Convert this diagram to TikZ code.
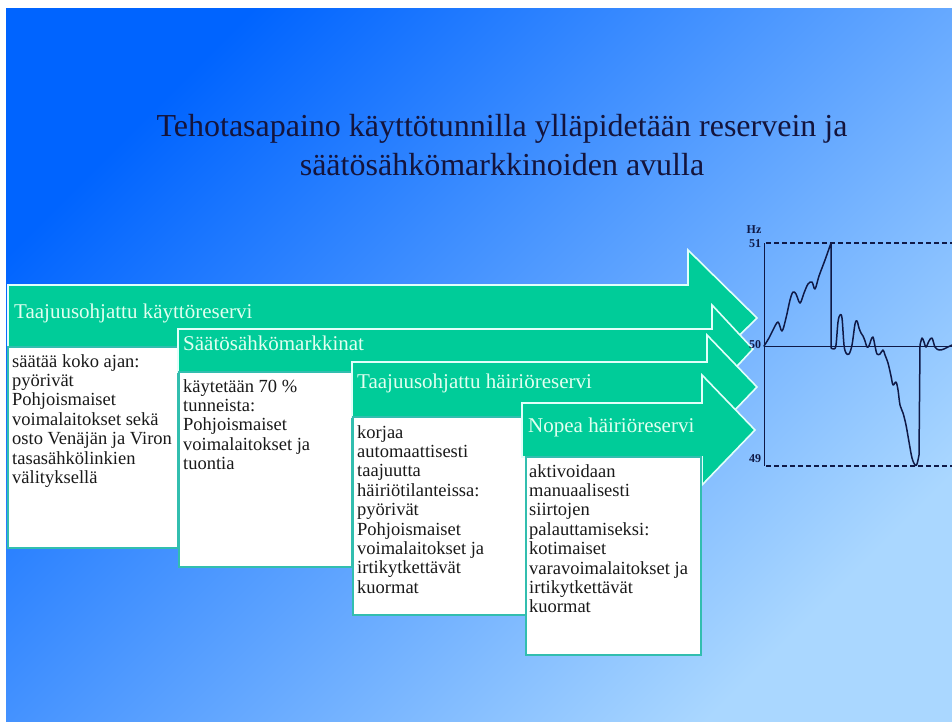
\documentclass[tikz,border=0pt]{standalone}
\usepackage{fontspec}
\setmainfont{Liberation Serif}
\definecolor{bgdark}{RGB}{0,100,255}
\definecolor{bglight}{RGB}{170,215,255}
\definecolor{rgreen}{RGB}{0,204,153}
\definecolor{rrim}{RGB}{225,255,250}
\definecolor{rteal}{RGB}{50,190,175}
\definecolor{rhead}{RGB}{225,255,240}
\definecolor{rink}{RGB}{25,25,25}
\definecolor{rnavy}{RGB}{15,25,70}
\definecolor{rtitle}{RGB}{20,20,60}
\begin{document}
\begin{tikzpicture}[x=1pt,y=-1pt,
  arrowshape/.style={fill=rgreen, draw=rrim, line width=1.6pt, line join=miter},
  textbox/.style={fill=white, draw=rteal, line width=1.8pt},
  headtext/.style={anchor=base west, inner sep=0pt, text=rhead,
    font=\fontsize{21}{24}\selectfont},
  bodytext/.style={anchor=base west, inner sep=0pt, text=rink,
    font=\fontsize{18.5}{19.4}\selectfont},
  trace/.style={draw=rnavy, line width=1.5pt, line join=round, line cap=round},
  axisline/.style={draw=rnavy, line width=0.9pt},
  limitline/.style={draw=rnavy, line width=1.6pt, dash pattern=on 5pt off 3pt},
  ticklabel/.style={inner sep=0pt, text=rnavy, font=\fontsize{12}{12}\bfseries\selectfont}]
\useasboundingbox (0,0) rectangle (952,722);
\fill[white] (0,0) rectangle (952,722);
\shade[top color=bgdark, bottom color=bglight, shading angle=45] (6,9) rectangle (952,722);

% title
\node[anchor=base, inner sep=0pt, text=rtitle, font=\fontsize{32}{38.5}\selectfont] (title) at (502,137)
  {\parbox[t]{820pt}{\centering Tehotasapaino käyttötunnilla ylläpidetään reservein ja\\
   säätösähkömarkkinoiden avulla}};

% reserve 1
\draw[arrowshape] (8,285) -- (688,285) -- (688,250) -- (757,318) -- (688,386) -- (688,347) -- (8,347) -- cycle;
\node[headtext] (h1) at (14,318) {Taajuusohjattu käyttöreservi};
\draw[textbox] (8,347) rectangle (178,548);
\node[bodytext] (b1) at (12,367) {\parbox[t]{168pt}{\raggedright säätää koko ajan:\\ pyörivät\\
  Pohjoismaiset\\ voimalaitokset sekä\\ osto Venäjän ja Viron\\ tasasähkölinkien\\ välityksellä}};

% reserve 2
\draw[arrowshape] (178,329) -- (712,329) -- (712,305) -- (753,349) -- (712,393) -- (712,372) -- (178,372) -- cycle;
\node[headtext] (h2) at (183,350) {Säätösähkömarkkinat};
\draw[textbox] (179,372) rectangle (352,567);
\node[bodytext] (b2) at (183,392) {\parbox[t]{168pt}{\raggedright käytetään 70 \%\\ tunneista:\\
  Pohjoismaiset\\ voimalaitokset ja\\ tuontia}};

% reserve 3
\draw[arrowshape] (352,362) -- (707,362) -- (707,335) -- (757,387) -- (707,439) -- (707,417) -- (352,417) -- cycle;
\node[headtext] (h3) at (357,388) {Taajuusohjattu häiriöreservi};
\draw[textbox] (353,417) rectangle (527,615);
\node[bodytext] (b3) at (357,438) {\parbox[t]{168pt}{\raggedright korjaa\\ automaattisesti\\ taajuutta\\
  häiriötilanteissa:\\ pyörivät\\ Pohjoismaiset\\ voimalaitokset ja\\ irtikytkettävät\\ kuormat}};

% reserve 4
\draw[arrowshape] (522,403) -- (702,403) -- (702,375) -- (755,430) -- (702,485) -- (702,457) -- (522,457) -- cycle;
\node[headtext] (h4) at (528,432) {Nopea häiriöreservi};
\draw[textbox] (526,457) rectangle (701,655);
\node[bodytext] (b4) at (529,477) {\parbox[t]{170pt}{\raggedright aktivoidaan\\ manuaalisesti\\ siirtojen\\
  palauttamiseksi:\\ kotimaiset\\ varavoimalaitokset ja\\ irtikytkettävät\\ kuormat}};

% frequency chart
\draw[limitline] (766,243) -- (952,243);
\draw[limitline] (766,466) -- (952,466);
\draw[axisline] (764,243) -- (764,466);
\draw[axisline] (764,346) -- (952,346);
\node[ticklabel] (hz) at (754,230) {Hz};
\node[ticklabel] (f51) at (755,244) {51};
\node[ticklabel] (f50) at (755,345) {50};
\node[ticklabel] (f49) at (755,459) {49};

\draw[trace] plot[smooth, tension=0.55] coordinates {(764,346) (769,338) (773,330) (778,322) (782,331)
  (786,318) (790,300) (793,292) (796,294) (800,303) (804,293) (808,284) (812,282) (815,289)
  (819,276) (825,260) (831,243)}
  -- (831,348)
  plot[smooth, tension=0.55] coordinates {(831,348) (834,349) (836,345) (838,322) (840,315) (842,318)
  (844,345) (846,353) (849,354) (852,345) (855,324) (857,321) (859,328) (861,333) (863,336)
  (865,341) (867,347) (869,346) (871,340) (873,337) (875,346) (877,354) (880,354) (883,350)
  (885,355) (888,363) (891,376) (893,385) (896,382) (898,390) (900,405) (903,413) (906,425)
  (909,442) (912,458) (915,465) (917,464) (919,455)}
  -- (920,345)
  plot[smooth, tension=0.55] coordinates {(920,345) (922,338) (924,342) (926,347) (929,341) (932,338)
  (935,347) (939,350) (944,349) (948,347) (952,345)};
\end{tikzpicture}
\end{document}
